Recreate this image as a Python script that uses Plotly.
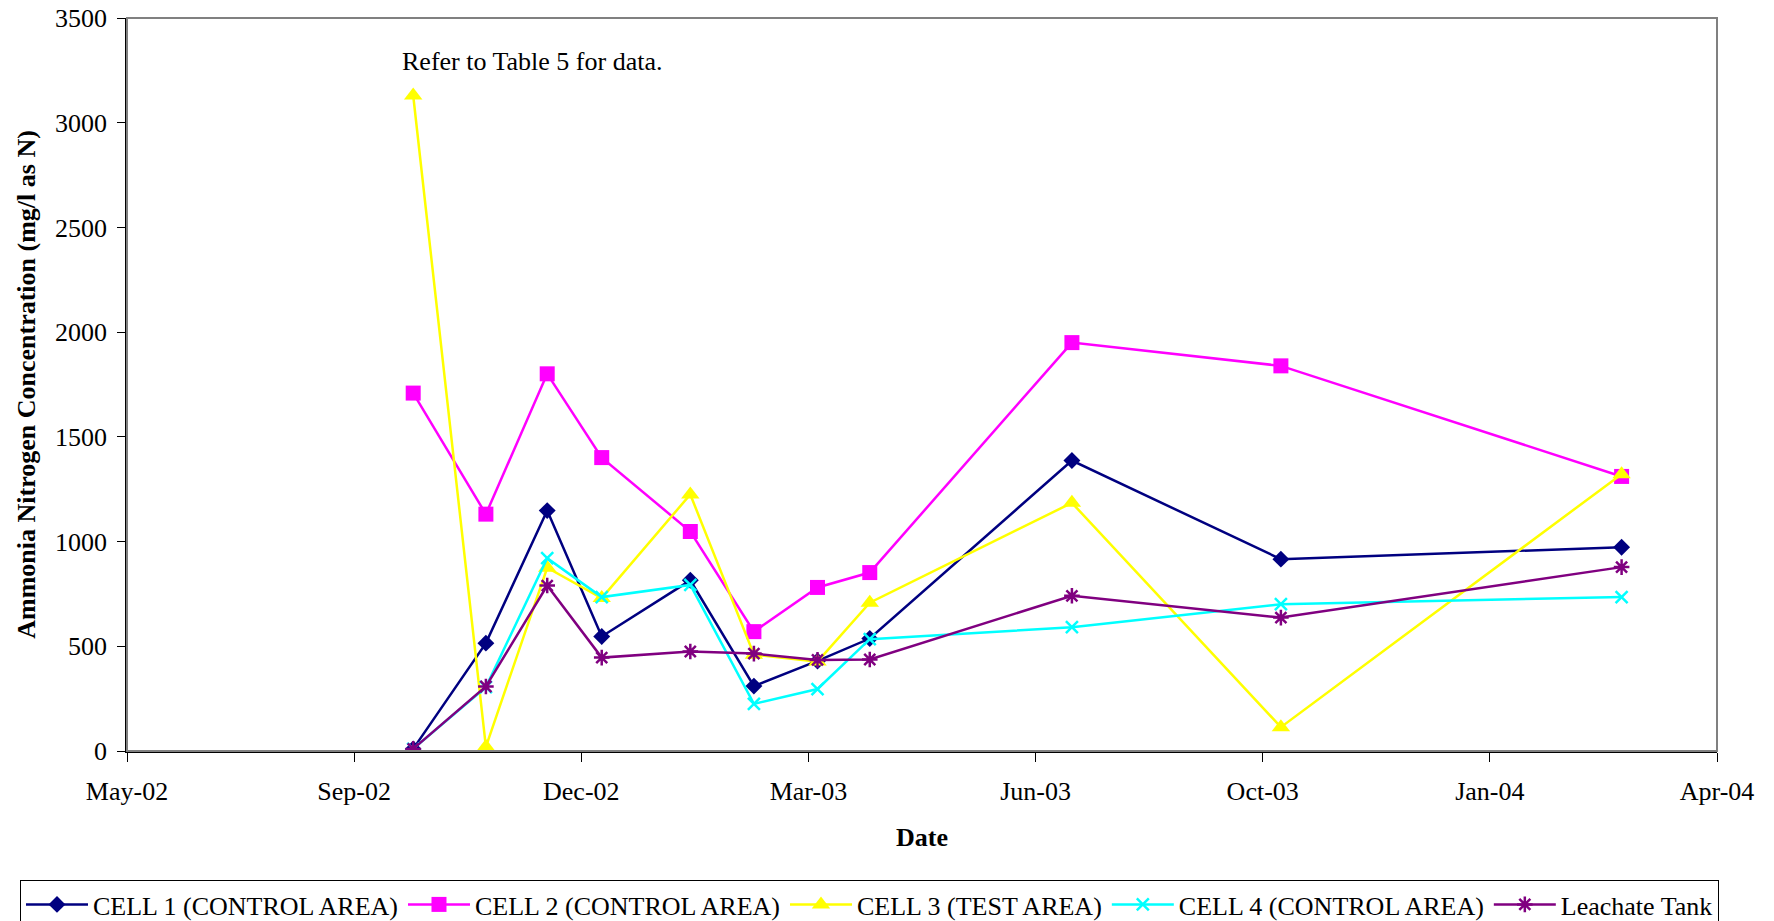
import plotly.graph_objects as go

# ---- data ----
dates = ["2002-09-27", "2002-10-29", "2002-11-25", "2002-12-19", "2003-01-27",
         "2003-02-24", "2003-03-24", "2003-04-16", "2003-07-14", "2003-10-14",
         "2004-03-12"]
cell1 = [10, 515, 1148, 547, 815, 310, 430, 537, 1387, 916, 973]
cell2 = [1709, 1131, 1801, 1401, 1048, 570, 781, 852, 1950, 1839, 1311]
cell3 = [3130, 20, 875, 730, 1225, 460, 427, 708, 1185, 114, 1322]
cell4 = [10, 305, 921, 735, 793, 225, 296, 534, 591, 701, 735]
leachate = [10, 308, 790, 446, 475, 465, 435, 437, 741, 637, 878]

series_names = ["CELL 1 (CONTROL AREA)", "CELL 2 (CONTROL AREA)", "CELL 3 (TEST AREA)",
                "CELL 4 (CONTROL AREA)", "Leachate Tank"]

tick_dates = ["2002-05-24", "2002-09-01", "2002-12-10", "2003-03-20", "2003-06-28",
              "2003-10-06", "2004-01-14", "2004-04-23"]
tick_labels = ["May-02", "Sep-02", "Dec-02", "Mar-03", "Jun-03", "Oct-03", "Jan-04", "Apr-04"]
y_ticks = [0, 500, 1000, 1500, 2000, 2500, 3000, 3500]

FONT = "Liberation Serif, Times New Roman, serif"

styles = [
    dict(color="#000080", symbol="diamond", size=13, lw=0),
    dict(color="#FF00FF", symbol="square", size=15, lw=0),
    dict(color="#FFFF00", symbol="triangle-up", size=16, lw=0),
    dict(color="#00FFFF", symbol="x-thin-open", size=12, lw=2.5),
    dict(color="#800080", symbol="asterisk-open", size=13, lw=2.5),
]

fig = go.Figure()
for name, vals, st in zip(series_names, [cell1, cell2, cell3, cell4, leachate], styles):
    fig.add_trace(go.Scatter(
        x=dates, y=vals, name=name, mode="lines+markers",
        line=dict(color=st["color"], width=2.5),
        marker=dict(symbol=st["symbol"], size=st["size"], color=st["color"],
                    line=dict(color=st["color"], width=st["lw"])),
    ))

fig.add_shape(type="rect", xref="paper", yref="paper", x0=0, y0=0, x1=1, y1=1,
              line=dict(color="#808080", width=2), layer="above")

fig.add_annotation(text="Refer to Table 5 for data.", xref="paper", yref="paper",
                   x=0.172, y=0.941, xanchor="left", yanchor="middle", showarrow=False,
                   font=dict(family=FONT, size=26, color="black"))

fig.update_layout(
    width=1774, height=921, autosize=False,
    margin=dict(l=119, r=65, t=10, b=178, autoexpand=False),
    paper_bgcolor="white", plot_bgcolor="white",
    font=dict(family=FONT, size=26, color="black"),
    showlegend=True,
    legend=dict(orientation="h", xref="paper", x=-0.0673, xanchor="left",
                yref="paper", y=-0.176, yanchor="top",
                bordercolor="black", borderwidth=1, itemwidth=62,
                font=dict(family=FONT, size=26, color="black"),
                tracegroupgap=0),
)
fig.update_xaxes(
    type="date", range=["2002-05-24", "2004-04-23"],
    tickvals=tick_dates, ticktext=tick_labels, tickangle=0,
    ticks="outside", ticklen=9, tickcolor="black", tickwidth=1,
    showline=True, linecolor="black", linewidth=1.5, showgrid=False, zeroline=False,
    tickfont=dict(family=FONT, size=26, color="black"), ticklabelstandoff=7,
    title=dict(text="<b>Date</b>", font=dict(family=FONT, size=26, color="black"), standoff=23),
    automargin=False, ticklabeloverflow="allow",
)
fig.update_yaxes(
    range=[0, 3500], tickvals=y_ticks,
    ticks="outside", ticklen=8, tickcolor="black", tickwidth=1,
    showline=True, linecolor="black", linewidth=1.5, showgrid=False, zeroline=False,
    tickfont=dict(family=FONT, size=26, color="black"), ticklabelstandoff=5,
    title=dict(text="<b>Ammonia Nitrogen Concentration (mg/l as N)</b>",
               font=dict(family=FONT, size=26, color="black"), standoff=12),
    automargin=False, ticklabeloverflow="allow",
)

fig.write_html("out.html")
